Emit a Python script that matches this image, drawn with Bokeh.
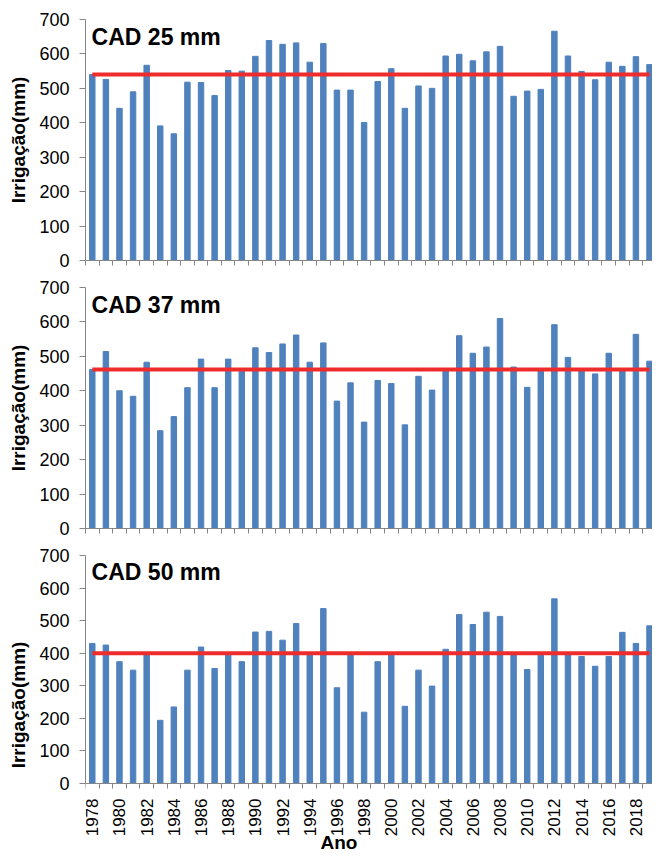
from bokeh.plotting import figure
from bokeh.models import Range1d, FixedTicker, Label
from bokeh.layouts import column
from bokeh.embed import file_html
from bokeh.resources import INLINE
import math

years = list(range(1978, 2020))

cad25 = [540, 526, 442, 490, 567, 391, 368, 518, 517, 479,
         552, 550, 593, 639, 628, 632, 576, 630, 495, 495,
         401, 520, 557, 442, 507, 500, 594, 599, 580, 606,
         622, 477, 492, 497, 666, 594, 549, 525, 576, 564,
         592, 569]
cad37 = [462, 514, 400, 384, 483, 284, 325, 409, 492, 409,
         492, 460, 525, 511, 536, 562, 483, 539, 370, 423,
         309, 430, 421, 301, 442, 402, 459, 560, 509, 527,
         610, 469, 410, 459, 592, 497, 459, 449, 509, 459,
         564, 486]
cad50 = [430, 425, 374, 348, 400, 194, 235, 348, 419, 353,
         397, 374, 465, 467, 440, 491, 397, 537, 294, 400,
         219, 374, 400, 237, 348, 299, 412, 519, 488, 526,
         513, 400, 350, 400, 567, 400, 390, 360, 390, 464,
         430, 484]

series = [cad25, cad37, cad50]
means = [540, 462, 400]
titles = ["CAD 25 mm", "CAD 37 mm", "CAD 50 mm"]
y_ticks = [0, 100, 200, 300, 400, 500, 600, 700]
x_title = "Ano"
y_title = "Irrigação(mm)"

FONT = "Liberation Sans"
AXIS_COLOR = "#868686"
BAR_COLOR = "#4F81BD"
RED = "#EE2C2C"

# (height, border_top, border_bottom, border_left, visible categories, y min)
layouts = [
    (274, 19, 14, 83, 41.72, 0),
    (267, 13, 13, 83, 41.72, 0),
    (313, 14, 0, 85, 41.72, -218),
]

figs = []
for k in range(3):
    h, bt, bb, bl, xend, ymin = layouts[k]
    p = figure(width=652, height=h, output_backend="svg", toolbar_location=None,
               x_range=Range1d(years[0] - 0.5, years[0] - 0.5 + xend),
               y_range=Range1d(ymin, 700),
               min_border_top=bt, min_border_bottom=bb,
               min_border_left=bl, min_border_right=0)
    p.outline_line_color = None
    p.xgrid.grid_line_color = None
    p.ygrid.grid_line_color = None

    p.vbar(x=years, top=series[k], width=0.4, color=BAR_COLOR)
    p.line(x=years, y=[means[k]] * len(years), line_color=RED, line_width=4)

    ya = p.yaxis[0]
    ya.ticker = FixedTicker(ticks=y_ticks)
    ya.bounds = (0, 700)
    ya.axis_line_color = AXIS_COLOR
    ya.major_tick_line_color = AXIS_COLOR
    ya.major_tick_out = 6
    ya.major_tick_in = 0
    ya.minor_tick_line_color = None
    ya.major_label_standoff = 10
    ya.major_label_text_font = FONT
    ya.major_label_text_font_size = "18px"
    ya.major_label_text_color = "black"
    ya.axis_label = y_title
    ya.axis_label_text_font = FONT
    ya.axis_label_text_font_size = "19px"
    ya.axis_label_text_font_style = "bold"
    ya.axis_label_text_color = "black"
    ya.axis_label_standoff = 7

    xa = p.xaxis[0]
    boundaries = [y - 0.5 for y in years] + [years[-1] + 0.5]
    if k < 2:
        xa.ticker = FixedTicker(ticks=[], minor_ticks=boundaries)
        xa.major_label_standoff = 0
    else:
        xa.ticker = FixedTicker(ticks=years[::2], minor_ticks=boundaries)
        xa.major_label_text_font_size = "17px"
        xa.major_label_standoff = 10
        xa.fixed_location = 0
    xa.axis_line_color = AXIS_COLOR
    xa.major_tick_line_color = None
    xa.major_tick_out = 0
    xa.major_tick_in = 0
    xa.minor_tick_line_color = AXIS_COLOR
    xa.minor_tick_out = 5
    xa.minor_tick_in = 0
    xa.major_label_orientation = math.pi / 2
    xa.major_label_text_font = FONT
    xa.major_label_text_color = "black"

    p.add_layout(Label(x=years[0] - 0.5 + 0.45, y=650, text=titles[k],
                       text_font=FONT, text_font_size="23px",
                       text_font_style="bold", text_color="black",
                       text_baseline="alphabetic"))
    if k == 2:
        p.add_layout(Label(x=years[0] - 0.5 + 17.29, y=-181, text=x_title,
                           text_font=FONT, text_font_size="19px",
                           text_font_style="bold", text_color="black",
                           text_baseline="alphabetic"))
    figs.append(p)

layout = column(*figs, spacing=0)
open("out.html", "w").write(file_html(layout, INLINE))
